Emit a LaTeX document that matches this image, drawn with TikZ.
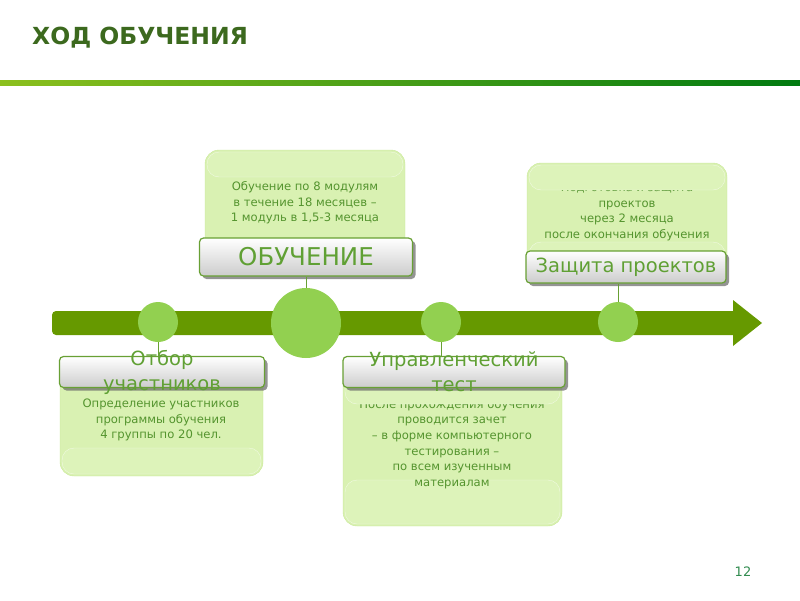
\documentclass[tikz,border=0pt]{standalone}
\usepackage{fontspec}
\setmainfont{DejaVu Sans}
\usetikzlibrary{shadows}
\definecolor{titlegreen}{RGB}{60,105,30}
\definecolor{arrowgreen}{RGB}{102,153,0}
\definecolor{dotgreen}{RGB}{146,208,80}
\definecolor{notefill}{RGB}{217,241,178}
\definecolor{bandfill}{RGB}{221,243,186}
\definecolor{noteline}{RGB}{200,232,152}
\definecolor{notetext}{RGB}{84,148,46}
\definecolor{tagline}{RGB}{104,160,52}
\definecolor{tagtext}{RGB}{96,160,52}
\definecolor{rulelight}{RGB}{140,192,30}
\definecolor{ruledark}{RGB}{0,122,16}
\definecolor{pagegreen}{RGB}{50,140,80}

\begin{document}
\begin{tikzpicture}[x=1pt,y=-1pt,
    note/.style={fill=notefill,draw=noteline,rounded corners=14pt},
    band/.style={fill=bandfill,draw=white,draw opacity=0.6,rounded corners=12pt},
    notetxt/.style={text=notetext,align=center,font=\fontsize{11.6}{15.6}\selectfont},
    tag/.style={draw=tagline,line width=1.2pt,rounded corners=4pt,
      top color=white,bottom color=black!20,
      drop shadow={shadow xshift=3pt,shadow yshift=-3pt,fill=black!60,opacity=0.7},
      text=tagtext,inner sep=0pt},
    tagtxt/.style={text=tagtext,align=center,font=\fontsize{19.5}{25}\selectfont},
    dot/.style={circle,fill=dotgreen,inner sep=0pt},
    stem/.style={draw=tagline,line width=0.8pt}]
  \useasboundingbox (0,0) rectangle (800,600);

  % Title
  \node[anchor=west,inner sep=0pt,text=titlegreen,font=\fontsize{23.5}{27}\selectfont\bfseries]
    (title) at (32,38) {ХОД ОБУЧЕНИЯ};
  \shade[left color=rulelight,right color=ruledark] (0,80) rectangle (800,85);

  % Notes above the arrow
  \filldraw[note] (205,150) rectangle (405,262);
  \node[notetxt] (trainTxt) at (305,203)
    {Обучение по 8 модулям\\в течение 18 месяцев –\\1 модуль в 1,5-3 месяца};
  \filldraw[band] (207,152) rectangle (403,177);

  \filldraw[note] (527,163) rectangle (727,272);
  \filldraw[band] (529,242) rectangle (725,270);
  \node[notetxt] (defTxt) at (627,212)
    {Подготовка и защита\\проектов\\через 2 месяца\\после окончания обучения};
  \filldraw[band] (529,165) rectangle (725,190);

  % Notes below the arrow
  \filldraw[note] (60,366) rectangle (263,476);
  \filldraw[band] (62,448) rectangle (261,474);
  \node[notetxt] (selTxt) at (161,420)
    {Определение участников\\программы обучения\\4 группы по 20 чел.};

  \filldraw[note] (343,368) rectangle (562,526);
  \filldraw[band] (345,480) rectangle (560,524);
  \node[notetxt] (testTxt) at (452,444)
    {После прохождения обучения\\проводится зачет\\– в форме компьютерного\\тестирования –\\по всем изученным\\материалам};
  \filldraw[band] (345,370) rectangle (560,404);

  % Arrow
  \fill[arrowgreen,rounded corners=4pt] (52,311) rectangle (740,335);
  \fill[arrowgreen] (733,300) -- (762,323) -- (733,346) -- cycle;

  \node[dot,minimum size=40pt] (selDot) at (158,322) {};
  \node[dot,minimum size=70pt] (trainDot) at (306,323) {};
  \node[dot,minimum size=40pt] (testDot) at (441,322) {};
  \node[dot,minimum size=40pt] (defDot) at (618,322) {};

  % Tags
  \node[tag,minimum width=213pt,minimum height=38pt,font=\fontsize{24.5}{28}\selectfont]
    (trainTag) at (306,257) {ОБУЧЕНИЕ};
  \node[tag,minimum width=200pt,minimum height=32pt,font=\fontsize{19.5}{23}\selectfont]
    (defTag) at (626,267) {Защита проектов};
  \node[tag,minimum width=205pt,minimum height=31pt] (selTag) at (162,372) {};
  \node[tagtxt] (selLbl) at (selTag.center) {Отбор\\участников};
  \node[tag,minimum width=222pt,minimum height=31pt] (testTag) at (454,372) {};
  \node[tagtxt] (testLbl) at (testTag.center) {Управленческий\\тест};

  % Stems
  \draw[stem] (trainTag.south) -- (trainDot.north);
  \draw[stem] (defDot.north) -- (defDot.north |- defTag.south);
  \draw[stem] (selDot.south) -- (selDot.south |- selTag.north);
  \draw[stem] (testDot.south) -- (testDot.south |- testTag.north);

  \node[text=pagegreen,font=\fontsize{13}{15}\selectfont] (pageNo) at (743,572) {12};
\end{tikzpicture}
\end{document}
